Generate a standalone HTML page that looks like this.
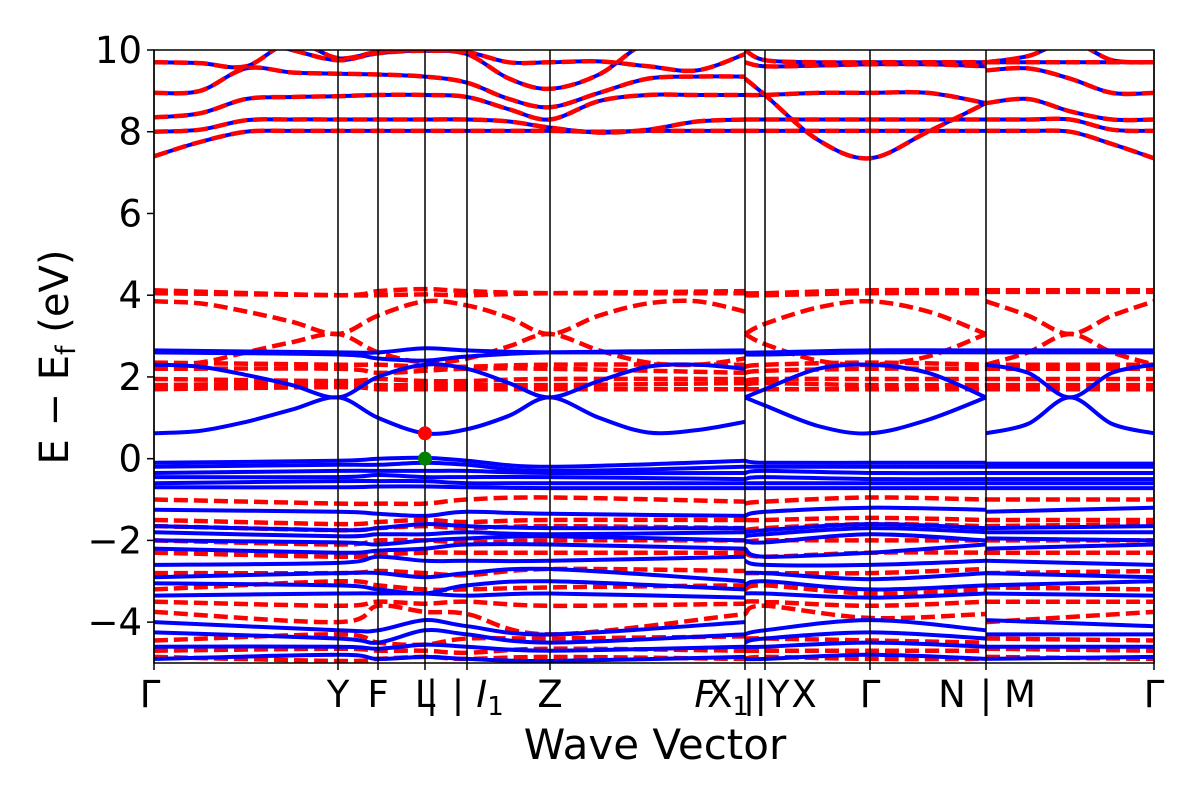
<!DOCTYPE html>
<html><head><meta charset="utf-8">
<style>
html,body{margin:0;padding:0;background:#fff;}
svg{display:block;font-family:"DejaVu Sans","Liberation Sans",sans-serif;}
</style></head>
<body>
<svg id="chart" width="1200" height="800" viewBox="0 0 1200 800">
  <defs><clipPath id="clip"><rect x="154" y="50" width="1000" height="613"/></clipPath></defs>
  <g id="bands" clip-path="url(#clip)"></g>
  <g id="vlines"></g>
  <g id="markers"></g>
  <rect x="154" y="50" width="1000" height="613" fill="none" stroke="#000" stroke-width="1.5"/>
  <g id="yaxis"></g>
  <g id="xaxis"></g>
  <text x="68" y="357" font-size="40" text-anchor="middle" transform="rotate(-90 68 357)">E − E<tspan font-size="27" dy="7">f</tspan><tspan dy="-7"> (eV)</tspan></text>
  <text x="655" y="759" font-size="42" text-anchor="middle">Wave Vector</text>
</svg>
<script>
// ---- data ----
const yTicks = [10, 8, 6, 4, 2, 0, -2, -4];
const yTickLabels = ["10", "8", "6", "4", "2", "0", "−2", "−4"];
const kHighSym = [0, .184, .224, .271, .313, .396, .591, .611, .716, .832, 1.0];
const kCoarseA = [0, .184, .224, .271, .313, .396, .591];
const kCoarseB = [.591, .611, .716, .832];
const kCoarseC = [.832, 1.0];
const kFineA = [0, .046, .092, .138, .184, .224, .271, .313, .355, .396, .445, .494, .543, .591];
const kFineB = [.591, .611, .664, .716, .774, .832];
const kFineC = [.832, .874, .916, .958, 1.0];

const blueCoarse = [
 [2.65,2.6,2.6,2.7,2.65,2.6,2.6, 2.6,2.6,2.65,2.65, 2.65,2.65],
 [2.6,2.55,2.45,2.4,2.5,2.6,2.65, 2.55,2.55,2.6,2.6, 2.6,2.6],
 [-0.1,-0.05,0.0,0.02,-0.05,-0.2,-0.05, -0.05,-0.1,-0.1,-0.1, -0.12,-0.12],
 [-0.2,-0.15,-0.15,-0.1,-0.15,-0.3,-0.2, -0.2,-0.2,-0.2,-0.2, -0.2,-0.2],
 [-0.35,-0.3,-0.3,-0.3,-0.3,-0.35,-0.35, -0.35,-0.3,-0.35,-0.35, -0.35,-0.35],
 [-0.45,-0.45,-0.4,-0.45,-0.45,-0.45,-0.5, -0.5,-0.45,-0.5,-0.5, -0.5,-0.5],
 [-0.6,-0.55,-0.55,-0.55,-0.6,-0.6,-0.6, -0.6,-0.6,-0.6,-0.6, -0.6,-0.6],
 [-0.7,-0.7,-0.68,-0.68,-0.7,-0.72,-0.72, -0.72,-0.72,-0.72,-0.72, -0.72,-0.72],
 [-1.25,-1.3,-1.35,-1.4,-1.3,-1.35,-1.4, -1.4,-1.3,-1.2,-1.25, -1.3,-1.2],
 [-1.65,-1.75,-1.7,-1.6,-1.65,-1.7,-1.7, -1.8,-1.75,-1.6,-1.7, -1.7,-1.65],
 [-1.8,-1.9,-1.85,-1.85,-1.8,-1.85,-1.8, -1.9,-1.85,-1.7,-1.8, -1.8,-1.8],
 [-2.0,-2.05,-2.1,-2.0,-1.95,-1.9,-2.0, -2.0,-2.05,-1.85,-2.0, -1.95,-2.0],
 [-2.2,-2.3,-2.25,-2.2,-2.1,-2.1,-2.2, -2.2,-2.4,-2.3,-2.1, -2.2,-2.1],
 [-2.6,-2.55,-2.4,-2.5,-2.5,-2.5,-2.4, -2.5,-2.6,-2.6,-2.5, -2.5,-2.6],
 [-2.9,-2.8,-2.8,-2.9,-2.8,-2.7,-3.0, -2.8,-2.8,-2.95,-2.8, -2.8,-2.9],
 [-3.05,-3.1,-3.2,-3.3,-3.1,-3.0,-3.2, -3.1,-3.0,-3.2,-3.1, -3.1,-3.0],
 [-3.35,-3.3,-3.3,-3.3,-3.35,-3.3,-3.4, -3.3,-3.3,-3.4,-3.3, -3.3,-3.35],
 [-4.0,-4.2,-4.2,-3.95,-4.1,-4.3,-4.0, -4.3,-4.2,-3.95,-4.2, -3.95,-4.1],
 [-4.25,-4.4,-4.5,-4.2,-4.3,-4.5,-4.3, -4.5,-4.4,-4.25,-4.4, -4.3,-4.3],
 [-4.6,-4.6,-4.65,-4.55,-4.6,-4.7,-4.6, -4.6,-4.6,-4.5,-4.6, -4.6,-4.6],
 [-4.9,-4.8,-4.9,-4.85,-4.9,-4.95,-4.85, -4.9,-4.9,-4.8,-4.9, -4.9,-4.85]
];
const redCoarse = [
 [4.12,4.0,4.1,4.15,4.1,4.05,4.05, 4.05,4.05,4.12,4.12, 4.12,4.12],
 [4.05,4.0,4.0,4.02,4.0,4.05,4.1, 4.0,4.0,4.05,4.05, 4.08,4.08],
 [2.35,2.3,2.3,2.25,2.25,2.3,2.3, 2.25,2.3,2.35,2.3, 2.3,2.3],
 [2.2,2.2,2.1,2.15,2.2,2.2,2.1, 2.1,2.15,2.2,2.2, 2.2,2.2],
 [1.95,1.9,1.95,1.9,1.9,1.95,1.95, 1.9,1.95,1.95,1.95, 1.95,1.95],
 [1.8,1.85,1.8,1.8,1.8,1.8,1.85, 1.8,1.85,1.8,1.8, 1.8,1.8],
 [1.7,1.75,1.7,1.7,1.7,1.7,1.7, 1.7,1.7,1.7,1.7, 1.7,1.7],
 [-1.0,-1.1,-1.1,-1.1,-1.0,-0.95,-1.05, -1.1,-1.05,-0.95,-1.0, -1.0,-1.0],
 [-1.5,-1.6,-1.55,-1.5,-1.55,-1.5,-1.5, -1.5,-1.5,-1.45,-1.5, -1.5,-1.5],
 [-1.65,-1.75,-1.7,-1.65,-1.7,-1.65,-1.7, -1.75,-1.7,-1.6,-1.65, -1.65,-1.6],
 [-2.0,-2.1,-2.0,-2.0,-2.05,-2.0,-2.0, -2.05,-2.0,-2.0,-2.0, -2.0,-2.0],
 [-2.3,-2.4,-2.35,-2.3,-2.3,-2.3,-2.3, -2.3,-2.4,-2.3,-2.3, -2.3,-2.3],
 [-2.8,-2.8,-2.75,-2.8,-2.85,-2.7,-2.75, -2.8,-2.8,-2.8,-2.7, -2.8,-2.75],
 [-3.2,-3.0,-3.1,-3.2,-3.2,-3.15,-3.1, -3.2,-3.1,-3.3,-3.2, -3.15,-3.2],
 [-3.5,-3.6,-3.5,-3.55,-3.5,-3.6,-3.55, -3.5,-3.5,-3.6,-3.5, -3.5,-3.5],
 [-3.75,-4.0,-3.6,-3.75,-3.8,-4.3,-3.8, -3.8,-3.6,-3.9,-3.8, -4.0,-3.75],
 [-4.45,-4.3,-4.5,-4.55,-4.4,-4.4,-4.35, -4.4,-4.4,-4.45,-4.5, -4.4,-4.45],
 [-4.7,-4.65,-4.7,-4.7,-4.75,-4.65,-4.7, -4.7,-4.7,-4.7,-4.7, -4.65,-4.7],
 [-4.85,-4.95,-4.9,-4.85,-4.9,-4.85,-4.9, -4.9,-4.85,-4.9,-4.9, -4.85,-4.9]
];
const blueFine = [
 [0.62,0.68,0.9,1.2,1.5,1.0,0.62,0.72,1.05,1.5,1.0,0.64,0.7,0.9, 1.5,1.3,0.8,0.62,0.95,1.5, 0.62,0.85,1.5,0.85,0.62],
 [2.3,2.25,2.05,1.8,1.5,2.0,2.3,2.2,1.85,1.5,1.9,2.25,2.3,2.2, 1.5,1.7,2.2,2.3,2.1,1.5, 2.3,2.1,1.5,2.1,2.3]
];
const redFine = [
 [3.85,3.8,3.6,3.35,3.05,3.5,3.85,3.75,3.45,3.05,3.5,3.8,3.85,3.6, 3.05,3.3,3.7,3.85,3.6,3.05, 3.85,3.5,3.05,3.5,3.85],
 [2.3,2.35,2.6,2.85,3.05,2.6,2.35,2.45,2.75,3.05,2.65,2.35,2.3,2.45, 3.05,2.8,2.4,2.3,2.5,3.05, 2.3,2.6,3.05,2.6,2.3]
];
const upperBands = [
 [7.40,7.75,8.0,8.02,8.02,8.02,8.02,8.02,8.02,8.02,8.0,8.02,8.02,8.02, 8.02,8.02,8.02,8.02,8.02,8.02, 8.02,8.02,8.0,7.7,7.35],
 [8.0,8.05,8.28,8.3,8.3,8.3,8.3,8.3,8.25,8.1,7.98,8.05,8.25,8.3, 8.3,8.3,8.3,8.3,8.3,8.3, 8.3,8.3,8.3,8.05,8.02],
 [8.35,8.45,8.8,8.85,8.87,8.9,8.9,8.85,8.55,8.3,8.75,8.9,8.9,8.9, 8.9,8.9,8.95,8.95,8.95,8.7, 8.7,8.8,8.5,8.3,8.3],
 [8.95,9.0,9.55,9.45,9.42,9.4,9.35,9.2,8.8,8.6,8.95,9.3,9.35,9.35, 9.3,8.9,7.8,7.35,8.0,8.7, 9.5,9.55,9.3,8.95,8.95],
 [9.7,9.68,9.6,10.2,9.8,9.95,10.0,9.95,9.7,9.7,9.72,9.6,9.5,9.9, 9.7,9.6,9.62,9.65,9.65,9.6, 9.7,9.85,10.2,9.75,9.7],
 [10.3,10.3,10.3,10.0,9.75,9.92,9.98,9.9,9.3,9.05,9.4,10.2,10.3,10.2, 10.0,9.75,9.7,9.7,9.7,9.7, 9.7,9.7,9.7,9.7,9.7]
];
const cbmEnergy = 0.62, vbmEnergy = 0.0, edgeK = .271;
const xTickLabels = [
 {k:-0.004,t:"Γ"},{k:.184,t:"Y"},{k:.224,t:"F"},{k:.271,t:"L"},{k:.278,t:"|"},{k:.304,t:"|"},
 {k:.336,t:"I",sub:"1",it:true},{k:.396,t:"Z"},{k:.551,t:"F",it:true},{k:.574,t:"X",sub:"1"},
 {k:.595,t:"|"},{k:.618,t:"|Y"},{k:.650,t:"X"},{k:.716,t:"Γ"},{k:.798,t:"N"},{k:.832,t:"|"},{k:.866,t:"M"},{k:1.0,t:"Γ"}
];

// ---- scales ----
const X0=154,X1=1154,Y0=50,Y1=663,EMIN=-5,EMAX=10;
const xs = k => X0 + k*(X1-X0);
const ys = e => Y1 - (e-EMIN)/(EMAX-EMIN)*(Y1-Y0);
const NS="http://www.w3.org/2000/svg";
function mk(tag, attrs, parent){const el=document.createElementNS(NS,tag);for(const a in attrs)el.setAttribute(a,attrs[a]);parent.appendChild(el);return el;}
function smoothPath(ks, es){
  const p=ks.map((k,i)=>[xs(k),ys(es[i])]);
  let d=`M${p[0][0].toFixed(1)},${p[0][1].toFixed(1)}`;
  for(let i=0;i<p.length-1;i++){
    const p0=p[i-1]||p[i],p1=p[i],p2=p[i+1],p3=p[i+2]||p[i+1];
    const c1=[p1[0]+(p2[0]-p0[0])/6,p1[1]+(p2[1]-p0[1])/6];
    const c2=[p2[0]-(p3[0]-p1[0])/6,p2[1]-(p3[1]-p1[1])/6];
    d+=` C${c1[0].toFixed(1)},${c1[1].toFixed(1)} ${c2[0].toFixed(1)},${c2[1].toFixed(1)} ${p2[0].toFixed(1)},${p2[1].toFixed(1)}`;
  }
  return d;
}
const bandsG=document.getElementById('bands');
function drawBand(segKs, vals, color, dashed, name){
  let off=0;
  segKs.forEach(ks=>{
    const es=vals.slice(off,off+ks.length); off+=ks.length;
    const el=mk('path',{d:smoothPath(ks,es),fill:'none',stroke:color,'stroke-width':dashed?4.5:4,'stroke-dasharray':dashed?'14 6':'none','stroke-linejoin':'round'},bandsG);
    
    
  });
}
const coarseSegs=[kCoarseA,kCoarseB,kCoarseC], fineSegs=[kFineA,kFineB,kFineC];
redCoarse.forEach(b=>drawBand(coarseSegs,b,'#ff0000',true,'spin-down-band'));
redFine.forEach(b=>drawBand(fineSegs,b,'#ff0000',true,'spin-down-band'));
blueCoarse.forEach(b=>drawBand(coarseSegs,b,'#0000ff',false,'spin-up-band'));
blueFine.forEach(b=>drawBand(fineSegs,b,'#0000ff',false,'spin-up-band'));
upperBands.forEach(b=>drawBand(fineSegs,b,'#0000ff',false,'spin-up-band'));
upperBands.forEach(b=>drawBand(fineSegs,b,'#ff0000',true,'spin-down-band'));

const vl=document.getElementById('vlines');
kHighSym.forEach(k=>{
  const el=mk('line',{x1:xs(k),x2:xs(k),y1:Y0,y2:Y1,stroke:'#000','stroke-width':1.5},vl);
  
  
});
const mg=document.getElementById('markers');
const cbm=mk('circle',{cx:xs(edgeK),cy:ys(cbmEnergy),r:7,fill:'#ff0000'},mg);


const vbm=mk('circle',{cx:xs(edgeK),cy:ys(vbmEnergy),r:7,fill:'#008000'},mg);



const ya=document.getElementById('yaxis');
yTicks.forEach((v,i)=>{
  const t=mk('line',{x1:X0-7,x2:X0,y1:ys(v),y2:ys(v),stroke:'#000','stroke-width':1.5},ya);
  
  
  const l=mk('text',{x:X0-12,y:ys(v)+13,'font-size':37,'text-anchor':'end'},ya);
  l.textContent=yTickLabels[i];
  
  
});
const xa=document.getElementById('xaxis');
kHighSym.forEach(k=>{
  const t=mk('line',{x1:xs(k),x2:xs(k),y1:Y1,y2:Y1+7,stroke:'#000','stroke-width':1.5},xa);
  
  
});
xTickLabels.forEach(o=>{
  const l=mk('text',{x:xs(o.k),y:707,'font-size':37,'text-anchor':'middle'},xa);
  const s=mk('tspan',{},l); s.textContent=o.t; if(o.it) s.setAttribute('font-style','italic');
  if(o.sub){const u=mk('tspan',{'font-size':26,dy:8},l);u.textContent=o.sub;}
  
  
});
</script>
</body></html>
